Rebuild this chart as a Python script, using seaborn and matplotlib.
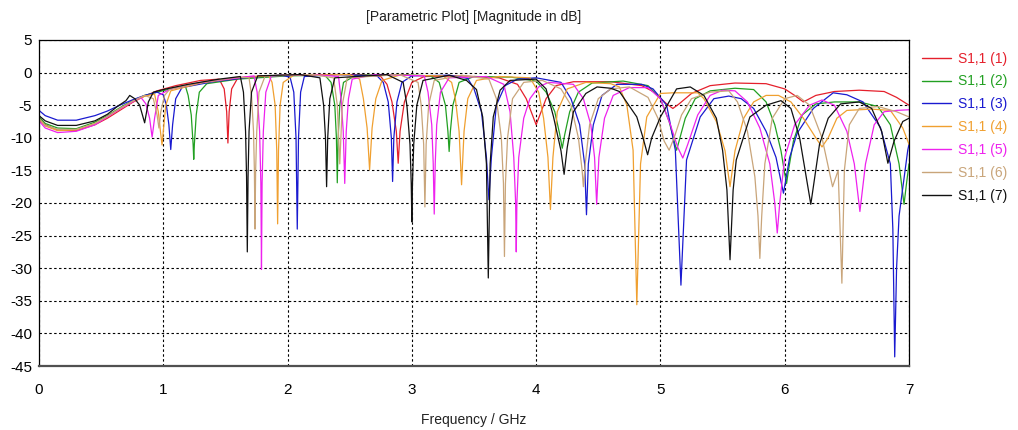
import matplotlib
matplotlib.use("Agg")
import matplotlib.pyplot as plt
import seaborn as sns
import pandas as pd

# S11 magnitude (dB) versus frequency (GHz) for seven parameter runs
S11_1 = [(0, -7.0), (0.05, -8.0), (0.15, -8.8), (0.3, -8.9), (0.45, -8.0), (0.55, -7.0), (0.65, -5.8),
         (0.75, -4.6), (0.85, -3.6), (0.95, -2.8), (1.1, -2.0), (1.3, -1.2), (1.45, -1.0), (1.49, -2.5),
         (1.51, -6.0), (1.52, -10.8), (1.53, -6.0), (1.55, -2.5), (1.6, -0.8), (1.8, -0.5), (2.2, -0.3),
         (2.6, -0.3), (2.75, -0.6), (2.8, -1.8), (2.84, -4.5), (2.875, -9.0), (2.89, -13.9), (2.905, -9.0),
         (2.94, -4.5), (3.0, -1.5), (3.1, -0.6), (3.4, -0.5), (3.7, -0.8), (3.85, -1.8), (3.92, -4.0),
         (3.97, -6.5), (4.0, -8.0), (4.03, -6.5), (4.08, -4.0), (4.16, -2.0), (4.3, -1.4), (4.6, -1.4),
         (4.85, -2.0), (4.95, -3.0), (5.05, -4.8), (5.1, -5.5), (5.15, -4.8), (5.25, -3.2), (5.4, -2.0),
         (5.6, -1.6), (5.85, -1.7), (6.0, -2.5), (6.08, -3.5), (6.15, -4.5), (6.25, -3.5), (6.4, -2.9),
         (6.6, -2.7), (6.8, -2.9), (6.9, -3.8), (7.0, -5.0)]

S11_2 = [(0, -6.8), (0.05, -7.8), (0.15, -8.5), (0.3, -8.6), (0.45, -7.6), (0.55, -6.6), (0.65, -5.4),
         (0.75, -4.3), (0.85, -3.5), (0.95, -3.0), (1.1, -2.3), (1.18, -2.2), (1.2, -3.5), (1.225, -6.5),
         (1.24, -11.0), (1.245, -13.3), (1.25, -11.0), (1.265, -6.5), (1.29, -3.0), (1.35, -1.7),
         (1.6, -1.0), (2.0, -0.5), (2.3, -0.4), (2.35, -1.5), (2.38, -5.0), (2.393, -10.0), (2.4, -16.9),
         (2.407, -10.0), (2.42, -5.0), (2.45, -1.5), (2.55, -0.4), (2.9, -0.3), (3.15, -0.5), (3.22, -1.5),
         (3.27, -5.0), (3.29, -9.0), (3.3, -12.1), (3.31, -9.0), (3.33, -5.0), (3.38, -1.5), (3.5, -0.6),
         (3.8, -0.7), (4.0, -1.3), (4.08, -3.0), (4.15, -6.0), (4.19, -9.5), (4.21, -11.6), (4.23, -9.5),
         (4.27, -6.0), (4.34, -3.0), (4.45, -1.6), (4.7, -1.3), (4.9, -2.0), (5.0, -4.0), (5.07, -7.5),
         (5.11, -10.5), (5.13, -11.9), (5.15, -10.5), (5.2, -7.0), (5.28, -4.0), (5.4, -2.8), (5.6, -2.4),
         (5.75, -2.6), (5.85, -4.5), (5.92, -8.0), (5.97, -12.0), (6.0, -15.5), (6.015, -17.0),
         (6.03, -15.0), (6.07, -10.5), (6.14, -6.5), (6.25, -4.8), (6.4, -4.5), (6.6, -4.5), (6.75, -5.2),
         (6.85, -8.0), (6.92, -14.0), (6.96, -20.2), (6.98, -17.0), (7.0, -14.0)]

S11_3 = [(0, -5.8), (0.05, -6.6), (0.15, -7.3), (0.3, -7.3), (0.45, -6.6), (0.55, -5.9), (0.65, -5.0),
         (0.75, -4.2), (0.85, -3.5), (0.95, -3.0), (1.0, -3.4), (1.025, -5.0), (1.045, -8.0), (1.06, -11.8),
         (1.075, -8.0), (1.1, -4.0), (1.15, -2.3), (1.4, -1.4), (1.7, -0.7), (1.95, -0.4), (2.02, -0.7),
         (2.05, -3.0), (2.068, -10.0), (2.078, -24.0), (2.088, -10.0), (2.105, -3.0), (2.135, -0.6),
         (2.4, -0.3), (2.72, -0.5), (2.77, -1.5), (2.81, -4.5), (2.835, -10.0), (2.845, -16.7),
         (2.855, -10.0), (2.88, -4.5), (2.92, -1.5), (3.0, -0.5), (3.3, -0.4), (3.45, -0.9), (3.5, -2.5),
         (3.56, -6.0), (3.6, -13.0), (3.62, -19.5), (3.64, -13.0), (3.68, -5.0), (3.75, -2.0), (3.85, -1.0),
         (4.0, -0.8), (4.2, -1.5), (4.28, -4.0), (4.35, -8.0), (4.39, -14.0), (4.405, -21.8), (4.42, -14.0),
         (4.46, -8.0), (4.53, -3.5), (4.65, -1.8), (4.85, -1.8), (4.94, -2.5), (5.05, -5.0), (5.12, -11.9),
         (5.165, -32.6), (5.21, -13.4), (5.32, -6.8), (5.43, -4.0), (5.55, -3.6), (5.65, -4.0),
         (5.75, -5.5), (5.85, -9.0), (5.93, -13.0), (5.99, -18.5), (6.04, -13.0), (6.1, -9.3),
         (6.23, -5.5), (6.39, -3.1), (6.5, -3.4), (6.63, -4.5), (6.77, -8.4), (6.85, -14.0), (6.87, -24.0),
         (6.885, -43.6), (6.9, -30.0), (6.92, -22.0), (6.99, -11.9), (7.0, -11.0)]

S11_4 = [(0, -7.2), (0.05, -8.2), (0.15, -8.9), (0.3, -8.8), (0.45, -7.8), (0.55, -6.8), (0.65, -5.6),
         (0.75, -4.5), (0.85, -3.6), (0.93, -3.3), (0.96, -6.0), (0.98, -9.5), (0.99, -11.1), (1.0, -9.0),
         (1.02, -5.0), (1.06, -2.8), (1.3, -1.6), (1.6, -0.8), (1.85, -0.5), (1.875, -1.5), (1.9, -5.0),
         (1.913, -12.0), (1.92, -23.2), (1.927, -12.0), (1.94, -5.0), (1.965, -1.5), (2.05, -0.4),
         (2.5, -0.3), (2.58, -1.0), (2.61, -4.0), (2.64, -8.5), (2.66, -14.9), (2.68, -8.5), (2.71, -4.0),
         (2.76, -1.2), (2.9, -0.4), (3.25, -0.5), (3.32, -1.5), (3.35, -4.0), (3.38, -9.0), (3.4, -17.2),
         (3.42, -9.0), (3.45, -4.0), (3.52, -1.2), (3.7, -0.6), (3.95, -0.8), (4.02, -3.0), (4.06, -7.0),
         (4.095, -13.0), (4.115, -21.0), (4.135, -13.0), (4.17, -6.0), (4.25, -2.5), (4.4, -1.5),
         (4.6, -1.7), (4.67, -2.2), (4.73, -5.0), (4.78, -11.9), (4.81, -35.6), (4.84, -14.0),
         (4.89, -6.8), (5.0, -3.2), (5.1, -3.1), (5.3, -3.1), (5.35, -4.0), (5.45, -7.5), (5.52, -12.0),
         (5.56, -17.5), (5.6, -12.0), (5.67, -7.0), (5.75, -4.5), (5.85, -3.5), (5.95, -3.5), (6.05, -4.5),
         (6.15, -7.0), (6.25, -10.0), (6.3, -11.4), (6.35, -10.0), (6.42, -7.0), (6.5, -5.8), (6.7, -5.6),
         (6.85, -5.8), (6.95, -8.5), (7.0, -11.0)]

S11_5 = [(0, -7.4), (0.05, -8.5), (0.15, -9.2), (0.3, -9.0), (0.45, -8.0), (0.55, -6.8), (0.65, -5.6),
         (0.75, -4.5), (0.82, -3.8), (0.86, -4.8), (0.89, -7.0), (0.91, -9.9), (0.93, -7.0), (0.96, -3.5),
         (1.05, -2.6), (1.3, -1.5), (1.6, -0.8), (1.73, -0.5), (1.755, -3.0), (1.775, -9.0), (1.785, -17.0),
         (1.79, -30.2), (1.795, -17.0), (1.805, -9.0), (1.825, -3.0), (1.87, -0.5), (2.2, -0.3),
         (2.41, -0.6), (2.43, -4.0), (2.448, -9.0), (2.46, -17.0), (2.472, -9.0), (2.49, -4.0), (2.52, -1.0),
         (2.7, -0.3), (3.1, -0.5), (3.13, -3.0), (3.16, -8.0), (3.172, -14.0), (3.18, -21.7), (3.188, -14.0),
         (3.2, -8.0), (3.23, -3.0), (3.3, -0.8), (3.6, -0.6), (3.74, -1.8), (3.79, -6.0), (3.82, -13.0),
         (3.835, -20.0), (3.84, -27.5), (3.845, -20.0), (3.86, -13.0), (3.9, -7.0), (3.95, -4.0),
         (4.02, -2.2), (4.1, -1.5), (4.3, -1.8), (4.38, -4.0), (4.44, -8.0), (4.47, -13.0), (4.487, -20.2),
         (4.505, -13.0), (4.55, -7.0), (4.62, -3.5), (4.75, -2.3), (4.9, -2.3), (5.0, -4.0), (5.08, -8.0),
         (5.14, -11.5), (5.18, -13.1), (5.22, -11.0), (5.3, -6.5), (5.4, -3.5), (5.5, -2.7), (5.6, -2.8),
         (5.7, -4.5), (5.8, -8.5), (5.88, -14.0), (5.92, -20.0), (5.94, -24.6), (5.96, -20.0), (6.0, -13.0),
         (6.08, -8.0), (6.2, -5.0), (6.3, -4.2), (6.4, -5.0), (6.5, -9.0), (6.56, -14.0), (6.605, -21.3),
         (6.65, -14.0), (6.72, -8.0), (6.8, -6.0), (6.9, -5.8), (7.0, -5.7)]

S11_6 = [(0, -7.0), (0.05, -8.1), (0.15, -8.7), (0.3, -8.7), (0.45, -7.8), (0.55, -6.7), (0.65, -5.5),
         (0.75, -4.4), (0.85, -3.5), (0.92, -4.0), (0.95, -6.5), (0.965, -8.5), (0.98, -6.0), (1.01, -3.5),
         (1.05, -2.6), (1.3, -1.5), (1.6, -0.7), (1.69, -0.8), (1.71, -3.5), (1.726, -9.0), (1.733, -15.0),
         (1.738, -24.0), (1.743, -15.0), (1.752, -9.0), (1.77, -3.0), (1.82, -0.5), (2.2, -0.3),
         (2.37, -0.8), (2.4, -5.0), (2.42, -14.0), (2.44, -5.0), (2.48, -0.8), (2.9, -0.3), (3.05, -1.5),
         (3.075, -5.0), (3.095, -11.0), (3.105, -20.6), (3.115, -11.0), (3.135, -5.0), (3.18, -1.2),
         (3.4, -0.4), (3.62, -1.0), (3.68, -4.0), (3.72, -10.0), (3.737, -17.0), (3.745, -28.2),
         (3.753, -17.0), (3.77, -10.0), (3.81, -4.0), (3.9, -1.5), (4.05, -1.2), (4.2, -2.5), (4.28, -5.0),
         (4.34, -10.0), (4.37, -15.0), (4.38, -17.5), (4.395, -14.0), (4.43, -8.0), (4.5, -4.0),
         (4.6, -2.5), (4.75, -2.2), (4.9, -3.8), (4.98, -7.0), (5.03, -10.5), (5.07, -11.9), (5.11, -10.0),
         (5.17, -6.5), (5.25, -4.0), (5.4, -3.0), (5.55, -2.8), (5.62, -4.5), (5.7, -9.0), (5.76, -16.0),
         (5.785, -22.0), (5.8, -28.5), (5.815, -22.0), (5.84, -14.0), (5.9, -7.0), (6.0, -4.0),
         (6.1, -3.5), (6.2, -5.0), (6.3, -10.0), (6.385, -17.5), (6.43, -15.0), (6.46, -32.3),
         (6.48, -15.0), (6.52, -8.0), (6.6, -5.5), (6.75, -5.2), (6.9, -6.0), (7.0, -6.8)]

S11_7 = [(0, -6.6), (0.05, -7.4), (0.15, -8.1), (0.3, -8.1), (0.45, -7.4), (0.55, -6.4), (0.63, -5.2),
         (0.7, -4.3), (0.73, -3.5), (0.77, -4.0), (0.81, -5.0), (0.85, -7.7), (0.88, -4.5), (0.92, -3.0),
         (1.0, -2.6), (1.2, -1.8), (1.45, -1.0), (1.62, -0.6), (1.645, -3.0), (1.662, -9.0), (1.67, -16.0),
         (1.676, -27.5), (1.682, -16.0), (1.69, -9.0), (1.71, -3.0), (1.76, -0.5), (2.1, -0.3),
         (2.26, -0.8), (2.29, -5.0), (2.305, -10.0), (2.314, -17.5), (2.323, -10.0), (2.34, -4.0),
         (2.38, -0.8), (2.8, -0.3), (2.93, -1.5), (2.96, -5.0), (2.985, -11.0), (2.995, -17.0),
         (3.0, -22.9), (3.005, -17.0), (3.015, -11.0), (3.04, -5.0), (3.09, -1.2), (3.3, -0.4),
         (3.44, -1.2), (3.52, -2.6), (3.57, -6.8), (3.6, -14.0), (3.615, -31.5), (3.63, -14.0),
         (3.655, -6.8), (3.71, -2.7), (3.79, -1.2), (4.0, -1.0), (4.08, -2.5), (4.14, -6.8), (4.2, -12.0),
         (4.225, -15.6), (4.25, -11.5), (4.3, -6.0), (4.4, -3.2), (4.49, -2.2), (4.6, -2.4), (4.67, -2.9),
         (4.81, -6.8), (4.86, -10.0), (4.897, -12.6), (4.93, -10.0), (5.0, -6.8), (5.13, -2.5),
         (5.24, -2.2), (5.35, -3.5), (5.45, -7.0), (5.5, -11.9), (5.535, -18.0), (5.56, -28.7),
         (5.585, -18.0), (5.61, -13.4), (5.72, -6.8), (5.85, -5.0), (5.97, -4.3), (6.05, -5.5),
         (6.12, -10.0), (6.21, -20.2), (6.28, -11.0), (6.35, -7.0), (6.45, -4.8), (6.6, -4.5), (6.7, -5.5),
         (6.78, -9.0), (6.83, -13.9), (6.88, -10.5), (6.95, -7.5), (7.0, -7.0)]

RUN_LABELS = ["S1,1 (1)", "S1,1 (2)", "S1,1 (3)", "S1,1 (4)", "S1,1 (5)", "S1,1 (6)", "S1,1 (7)"]
RUN_COLORS = ["#e5202c", "#22a022", "#1a1ad0", "#f0a030", "#ee22ee", "#c9a57a", "#111111"]
X_TICKS = [0, 1, 2, 3, 4, 5, 6, 7]
Y_TICKS = [5, 0, -5, -10, -15, -20, -25, -30, -35, -40, -45]

runs = [S11_1, S11_2, S11_3, S11_4, S11_5, S11_6, S11_7]
rows = []
for label, run in zip(RUN_LABELS, runs):
    for f, db in run:
        rows.append({"freq": f, "s11": db, "run": label})
df = pd.DataFrame(rows)

sns.set_theme(style="white")
plt.rcParams["font.family"] = ["Liberation Sans", "DejaVu Sans"]

fig = plt.figure(figsize=(10.18, 4.30), dpi=100)
ax = fig.add_axes([39 / 1018, 64 / 430, 870 / 1018, 326 / 430])

sns.lineplot(data=df, x="freq", y="s11", hue="run", hue_order=RUN_LABELS,
             palette=dict(zip(RUN_LABELS, RUN_COLORS)), sort=False, estimator=None,
             linewidth=0.9, legend=False, ax=ax)

ax.set_xlim(0, 7)
ax.set_ylim(-45, 5)
ax.set_xticks(X_TICKS)
ax.set_yticks(Y_TICKS)
ax.set_xticklabels([str(t) for t in X_TICKS])
ax.set_yticklabels([str(t) for t in Y_TICKS])
ax.grid(True, color="black", linestyle=(0, (2.2, 2.2)), linewidth=0.8)
ax.set_axisbelow(True)
ax.tick_params(axis="both", direction="out", length=3, width=0.8, color="black",
               labelsize=11, colors="black", pad=2)
ax.tick_params(axis="x", pad=9)

for side in ("top", "right", "left"):
    ax.spines[side].set_color("black")
    ax.spines[side].set_linewidth(0.9)
ax.spines["bottom"].set_color("#505050")
ax.spines["bottom"].set_linewidth(1.6)

ax.set_xlabel("Frequency / GHz", fontsize=10, color="#222222", labelpad=12)
ax.set_ylabel("")
ax.set_title("[Parametric Plot] [Magnitude in dB]", fontsize=10, color="#222222", pad=14)

handles = ax.get_lines()[:len(RUN_LABELS)]
leg = fig.legend(handles, RUN_LABELS, loc="upper left", bbox_to_anchor=(916 / 1018, 1 - 46 / 430),
                 frameon=False, fontsize=10, handlelength=2.1, handletextpad=0.5,
                 labelspacing=0.64, labelcolor=RUN_COLORS, borderaxespad=0.0)
for line in leg.get_lines():
    line.set_linewidth(1.0)

fig.savefig("out.png", dpi=100)
